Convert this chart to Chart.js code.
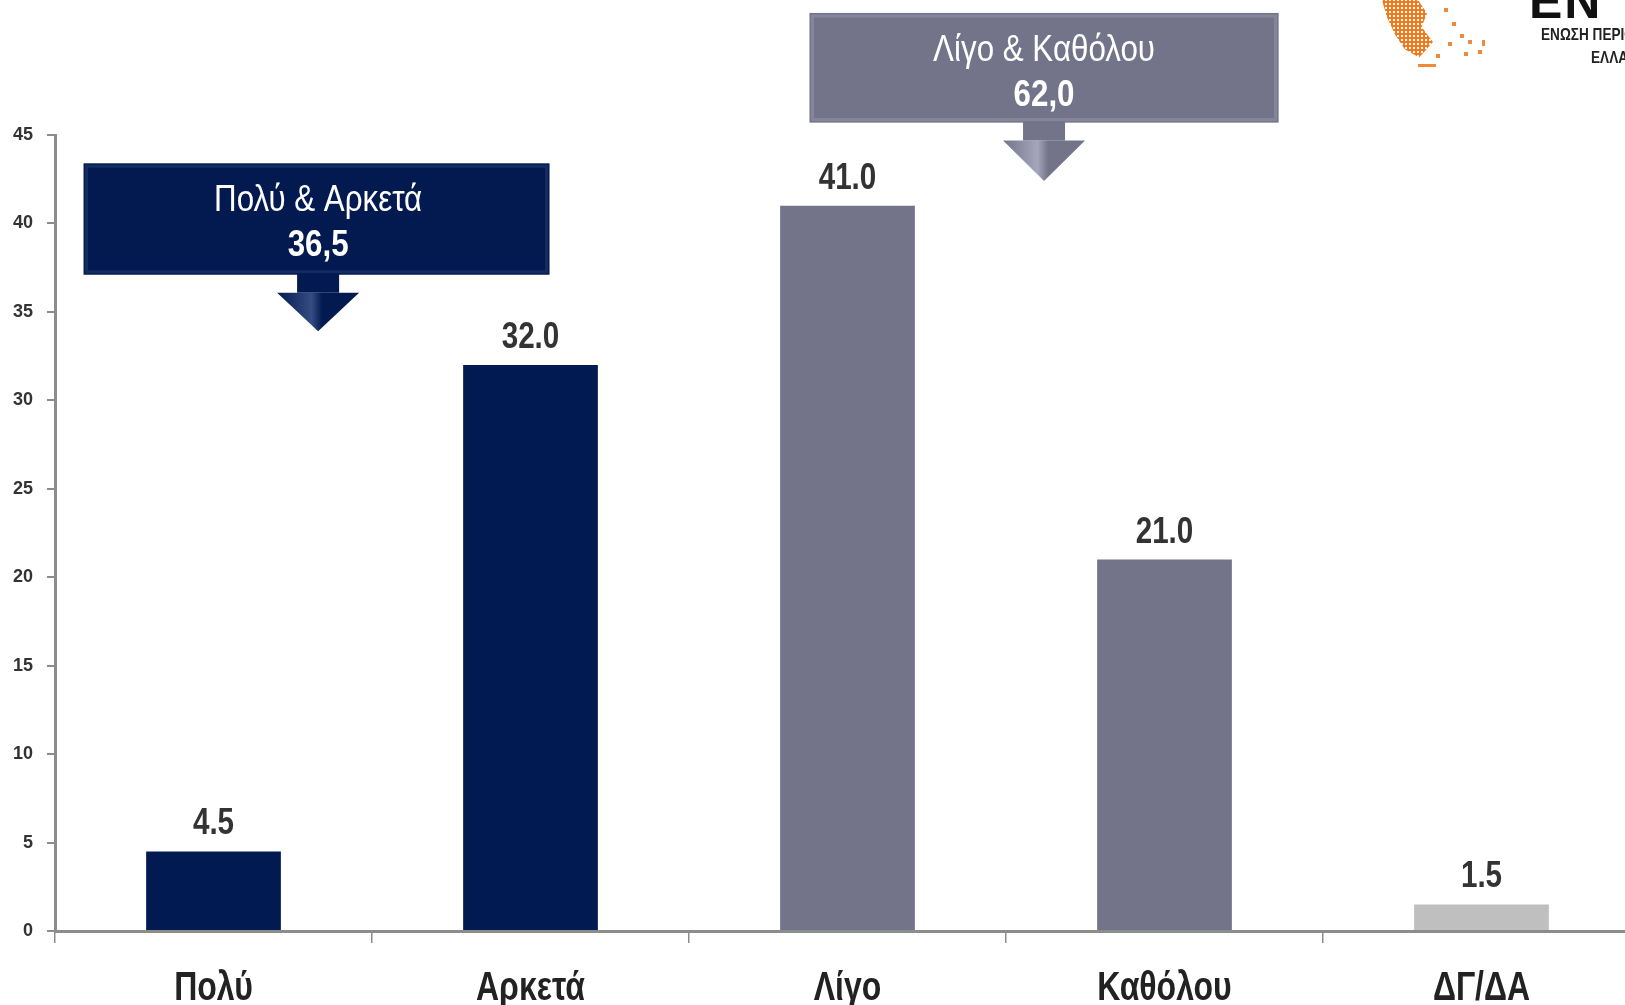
<!DOCTYPE html>
<html>
<head>
<meta charset="utf-8">
<script src="https://cdn.jsdelivr.net/npm/chart.js@4/dist/chart.umd.min.js"></script>
<style>
  html, body { margin: 0; padding: 0; background: #fff; overflow: hidden; }
  #wrap { position: relative; width: 1640px; height: 1005px; }
  #logo { position: absolute; left: 1378px; top: 0; width: 260px; height: 75px; }
  .map { position: absolute; left: 4px; top: 0; width: 60px; height: 60px;
         background-image: radial-gradient(circle, #f07a1e 1.7px, transparent 2.1px);
         background-size: 4px 4px;
         clip-path: polygon(0 0, 60% 0, 75% 22%, 66% 45%, 85% 70%, 62% 96%, 38% 82%, 22% 58%, 8% 28%); }
  .dot { position: absolute; width: 4px; height: 4px; background: #f08a3a; }
  .bigtxt { position: absolute; left: 151px; top: -28px; font: bold 50px 'Liberation Sans', Arial, sans-serif; color: #111; letter-spacing: 2px; }
  .small { position: absolute; font: bold 17px 'Liberation Sans', Arial, sans-serif; color: #222; white-space: nowrap;
           transform: scaleX(0.8); transform-origin: left top; }
</style>
</head>
<body>
<div id="wrap">
  <canvas id="chart" width="1640" height="1005"></canvas>
  <div id="logo">
    <div class="map"></div>
    <div class="dot" style="left:66px;top:8px"></div>
    <div class="dot" style="left:74px;top:22px"></div>
    <div class="dot" style="left:82px;top:34px"></div>
    <div class="dot" style="left:70px;top:42px"></div>
    <div class="dot" style="left:90px;top:40px"></div>
    <div class="dot" style="left:86px;top:52px"></div>
    <div class="dot" style="left:100px;top:50px"></div>
    <div class="dot" style="left:58px;top:54px"></div>
    <div class="dot" style="left:40px;top:64px;width:18px;height:3px"></div>
    <div class="dot" style="left:104px;top:40px;width:3px;height:6px"></div>
    <div class="bigtxt">ΕΝ</div>
    <div class="small" style="left:163px;top:25px">ΕΝΩΣΗ ΠΕΡΙΦΕΡΕΙΩΝ</div>
    <div class="small" style="left:213px;top:48px">ΕΛΛΑΔΑΣ</div>
  </div>
</div>
<script>
(function() {
  'use strict';

  // =============================================
  // Δεδομένα
  // =============================================
  const categories = ['Πολύ', 'Αρκετά', 'Λίγο', 'Καθόλου', 'ΔΓ/ΔΑ'];
  const values = [4.5, 32.0, 41.0, 21.0, 1.5];
  const barColors = ['#021a52', '#021a52', '#737489', '#737489', '#bfbfbf'];

  const groupLabels = ['Πολύ & Αρκετά', 'Λίγο & Καθόλου'];
  const groupTotals = [36.5, 62.0];
  const groupColors = ['#031a51', '#737489'];

  const yTicks = [0, 5, 10, 15, 20, 25, 30, 35, 40, 45];

  const SANS = "'Liberation Sans', Arial, sans-serif";
  const AXIS = '#8c8c8c';

  // box/arrow placement in scale units (x = category index, y = value)
  const calloutPlace = [
    { from: -0.41, to: 1.06, top: 43.4, bottom: 37.1, arrow: 0.33, tip: 33.9 },
    { from: 1.88, to: 3.36, top: 51.9, bottom: 45.7, arrow: 2.62, tip: 42.4 }
  ];

  // squeeze Liberation Sans so it looks like Arial Narrow
  function narrowText(ctx, text, x, y, font, color, sx) {
    ctx.save();
    ctx.font = font;
    ctx.fillStyle = color;
    ctx.textAlign = 'center';
    ctx.translate(x, y);
    ctx.scale(sx || 0.8, 1);
    ctx.fillText(text, 0, 0);
    ctx.restore();
  }

  // =============================================
  // Ετικέτες τιμών + ετικέτες κατηγοριών
  // =============================================
  const barTexts = {
    id: 'barTexts',
    afterDraw(chart) {
      const ctx = chart.ctx;
      const meta = chart.getDatasetMeta(0);
      const xs = chart.scales.x;
      ctx.save();
      ctx.textBaseline = 'alphabetic';
      meta.data.forEach(function(bar, i) {
        narrowText(ctx, values[i].toFixed(1), bar.x, bar.y - 17, 'bold 37px ' + SANS, '#333');
      });
      categories.forEach(function(c, i) {
        narrowText(ctx, c, xs.getPixelForValue(i), xs.top + 69, 'bold 40px ' + SANS, '#222');
      });
      ctx.restore();
    }
  };

  // =============================================
  // Πλαίσια ομάδων με βέλη
  // =============================================
  function shade(hex, amt) {
    const n = parseInt(hex.slice(1), 16);
    const c = [(n >> 16), (n >> 8) & 255, n & 255].map(v => Math.max(0, Math.min(255, v + amt)));
    return 'rgb(' + c.join(',') + ')';
  }

  const callouts = {
    id: 'callouts',
    afterDraw(chart) {
      const xs = chart.scales.x, ys = chart.scales.y, ctx = chart.ctx;
      ctx.save();
      calloutPlace.forEach(function(p, i) {
        const x0 = xs.getPixelForValue(p.from), x1 = xs.getPixelForValue(p.to);
        const y0 = ys.getPixelForValue(p.top), y1 = ys.getPixelForValue(p.bottom);
        const ax = xs.getPixelForValue(p.arrow), tip = ys.getPixelForValue(p.tip);
        const col = groupColors[i];

        // box with soft bevel
        ctx.fillStyle = col;
        ctx.fillRect(x0, y0, x1 - x0, y1 - y0);
        ctx.strokeStyle = shade(col, 18);
        ctx.lineWidth = 3;
        ctx.strokeRect(x0 + 3, y0 + 3, x1 - x0 - 6, y1 - y0 - 6);
        ctx.strokeStyle = col;
        ctx.lineWidth = 2;
        ctx.strokeRect(x0 + 6, y0 + 6, x1 - x0 - 12, y1 - y0 - 12);

        // arrow
        const shaftEnd = y1 + 18;
        const grad = ctx.createLinearGradient(ax - 41, 0, ax + 41, 0);
        grad.addColorStop(0, col);
        grad.addColorStop(0.42, shade(col, 50));
        grad.addColorStop(0.55, col);
        grad.addColorStop(1, col);
        ctx.fillStyle = col;
        ctx.fillRect(ax - 21, y1 - 1, 42, shaftEnd - y1 + 1);
        ctx.beginPath();
        ctx.moveTo(ax - 41, shaftEnd);
        ctx.lineTo(ax + 41, shaftEnd);
        ctx.lineTo(ax, tip);
        ctx.closePath();
        ctx.fillStyle = grad;
        ctx.fill();

        // texts
        ctx.textBaseline = 'alphabetic';
        narrowText(ctx, groupLabels[i], ax, y0 + 48, '36px ' + SANS, '#fff', 0.87);
        narrowText(ctx, groupTotals[i].toFixed(1).replace('.', ','), ax, y0 + 93, 'bold 36px ' + SANS, '#fff', 0.87);
      });
      ctx.restore();
    }
  };

  new Chart(document.getElementById('chart'), {
    type: 'bar',
    data: {
      labels: categories,
      datasets: [{
        data: values,
        backgroundColor: barColors,
        borderWidth: 0,
        barPercentage: 0.85,
        categoryPercentage: 0.5
      }]
    },
    options: {
      responsive: false,
      animation: false,
      layout: { padding: { top: 135, left: 0, right: 0, bottom: 0 } },
      plugins: {
        legend: { display: false },
        tooltip: { enabled: false }
      },
      scales: {
        x: {
          offset: true,
          afterFit: function(s) { s.height = 74; },
          grid: {
            offset: true,
            drawOnChartArea: false,
            drawTicks: true,
            tickLength: 12,
            color: AXIS,
            lineWidth: 1.5
          },
          border: { display: true, color: AXIS, width: 3 },
          ticks: { display: false }
        },
        y: {
          min: 0,
          max: 45,
          afterFit: function(s) { s.width = 55; },
          afterBuildTicks: function(s) { s.ticks = yTicks.map(v => ({ value: v })); },
          grid: {
            drawOnChartArea: false,
            drawTicks: true,
            tickLength: 8,
            color: AXIS,
            lineWidth: 2
          },
          border: { display: true, color: AXIS, width: 3 },
          ticks: {
            padding: 14,
            color: '#333',
            font: { family: SANS, size: 18, weight: 'bold' }
          }
        }
      }
    },
    plugins: [barTexts, callouts]
  });
})();
</script>
</body>
</html>
